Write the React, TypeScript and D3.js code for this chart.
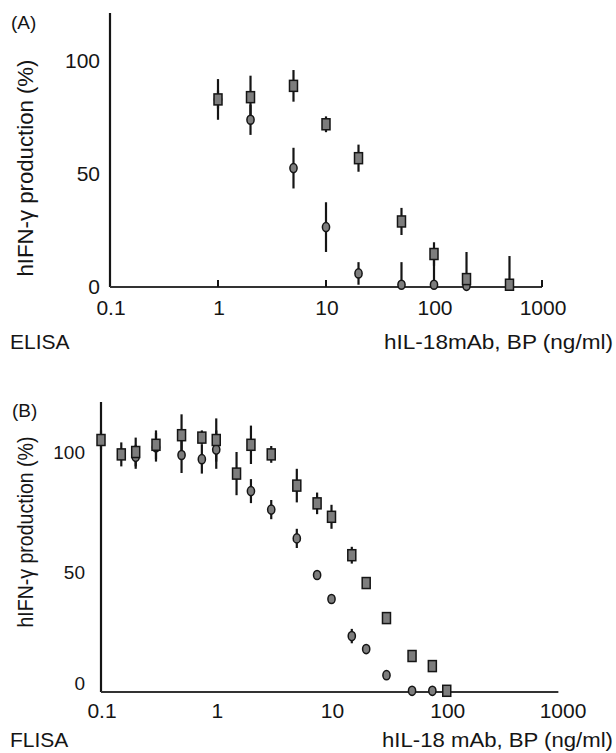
import React from 'react';
import * as d3 from 'd3';

// ---- data ----
// panel A (ng/ml)
const concA = [1, 2, 5, 10, 20, 50, 100, 200, 500];
const squareA = [83, 84, 89, 72, 57, 29, 14.6, 3.5, 1];
const squareErrA = [4, 9.5, 7, 3.5, 6, 6, 5.2, 12, 12.7];
const circleConcA = [1, 2, 5, 10, 20, 50, 100, 200];
const circleA = [83, 74, 52.6, 26.5, 6, 1, 1, 0.5];
const circleErrA = [9, 6.7, 9, 11, 5, 10, 12, 1];

// panel B (ng/ml)
const concB = [0.1, 0.15, 0.2, 0.3, 0.5, 0.75, 1, 1.5, 2, 3, 5, 7.5, 10, 15, 20, 30, 50, 75, 100];
const squareB = [105, 99, 100, 103, 107, 106, 105, 91, 103, 99, 86, 78.6, 73, 57, 45.4, 30.8, 15, 10.8, 0.5];
const squareErrB = [4, 5, 6, 6, 8.7, 3, 9, 9, 8, 3.5, 7, 4.5, 5, 3.5, 1.5, 1.5, 1.5, 1.5, 1];
const circleConcB = [0.2, 0.3, 0.5, 0.75, 1, 2, 3, 5, 7.5, 10, 15, 20, 30, 50, 75];
const circleB = [98, 102, 98.75, 97, 101, 83.7, 76, 64, 48.75, 38.75, 23.3, 17.9, 7, 0.5, 0.5];
const circleErrB = [5, 6, 7.5, 6, 8, 5, 4, 4, 1.5, 1.5, 3, 1.5, 1.5, 1, 1];

const xTicks = [0.1, 1, 10, 100, 1000];
const yTicks = [0, 50, 100];

const font = '"Liberation Sans", Arial, Helvetica, sans-serif';
const ink = '#151515';
const markFill = '#7d7d7d';

const Panel = ({ p, squares, circles }) => {
  const x = d3.scaleLog().domain([0.1, 1000]).range([p.x0, p.x1]);
  const y = d3.scaleLinear().domain([0, 100]).range([p.y0, p.y100]);

  const errBar = (c, v, e, key) => (
    <line key={key} x1={x(c)} x2={x(c)} y1={y(Math.max(0, v - e))} y2={y(v + e)}
      stroke={ink} strokeWidth={2.2} />
  );

  return (
    <g>
      {/* axes */}
      <line x1={p.x0} x2={p.x0} y1={p.y0} y2={p.yTop} stroke={ink} strokeWidth={2.2} />
      <line x1={p.x0} x2={x(p.xEnd)} y1={p.y0} y2={p.y0} stroke="#333" strokeWidth={2} />
      {p.ticks && xTicks.slice(1).map(t => (
        <line key={'t' + t} x1={x(t)} x2={x(t)} y1={p.y0} y2={p.y0 - 7} stroke={ink} strokeWidth={2} />
      ))}

      {/* error bars */}
      {circles.conc.map((c, i) => errBar(c, circles.val[i], circles.err[i], 'ce' + i))}
      {squares.conc.map((c, i) => errBar(c, squares.val[i], squares.err[i], 'se' + i))}

      {/* markers */}
      {circles.conc.map((c, i) => (
        <ellipse key={'c' + i} cx={x(c)} cy={y(circles.val[i])} rx={3.6} ry={4.6}
          fill={markFill} stroke={ink} strokeWidth={1.5} />
      ))}
      {squares.conc.map((c, i) => (
        <rect key={'s' + i} x={x(c) - 4} y={y(squares.val[i]) - 5.5} width={8} height={11}
          fill={markFill} stroke={ink} strokeWidth={1.5} />
      ))}

      {/* tick labels */}
      {xTicks.map(t => (
        <text key={'xl' + t} x={x(t) + 1} y={p.xLabelY} textAnchor="middle"
          fontSize={21} fontFamily={font} fill={ink}>{t}</text>
      ))}
      {yTicks.map(t => (
        <text key={'yl' + t} x={p.yLabelX} y={y(t) + (t === 0 ? p.zeroDy : 7)} textAnchor="end"
          fontSize={p.yTickSize} fontFamily={font} fill={ink}>{t}</text>
      ))}

      {/* titles */}
      <text x={p.tagX} y={p.tagY} fontSize={19} fontFamily={font} fill={ink}>{p.tag}</text>
      <text transform={`translate(${p.yTitleX},${p.yTitleCy}) rotate(-90)`} textAnchor="middle"
        fontSize={22} fontFamily={font} fill={ink} textLength={p.yTitleLen} lengthAdjust="spacingAndGlyphs">
        hIFN-γ production (%)
      </text>
      <text x={10} y={p.titleY} fontSize={21} fontFamily={font} fill={ink}>{p.method}</text>
      <text x={613} y={p.titleY} textAnchor="end" fontSize={21} fontFamily={font} fill={ink}
        textLength={p.xTitleLen} lengthAdjust="spacingAndGlyphs">{p.xTitle}</text>
    </g>
  );
};

const panelA = {
  x0: 110, x1: 542, y0: 287, y100: 61, yTop: 13, xEnd: 1000, ticks: true,
  xLabelY: 315, yLabelX: 100, zeroDy: 7, yTickSize: 21,
  tag: '(A)', tagX: 11, tagY: 29,
  yTitleX: 33, yTitleCy: 168, yTitleLen: 217,
  method: 'ELISA', titleY: 349,
  xTitle: 'hIL-18mAb, BP (ng/ml)', xTitleLen: 229,
};

const panelB = {
  x0: 101, x1: 562, y0: 692, y100: 452, yTop: 402, xEnd: 930, ticks: false,
  xLabelY: 718, yLabelX: 85, zeroDy: -2, yTickSize: 19,
  tag: '(B)', tagX: 12, tagY: 417,
  yTitleX: 33, yTitleCy: 532, yTitleLen: 191,
  method: 'FLISA', titleY: 747,
  xTitle: 'hIL-18 mAb, BP (ng/ml)', xTitleLen: 231,
};

export default function App() {
  return (
    <svg width={616} height={753} style={{ position: 'absolute', left: 0, top: 0, background: '#fff' }}>
      <rect width={616} height={753} fill="#fff" />
      <Panel p={panelA}
        squares={{ conc: concA, val: squareA, err: squareErrA }}
        circles={{ conc: circleConcA, val: circleA, err: circleErrA }} />
      <Panel p={panelB}
        squares={{ conc: concB, val: squareB, err: squareErrB }}
        circles={{ conc: circleConcB, val: circleB, err: circleErrB }} />
    </svg>
  );
}
